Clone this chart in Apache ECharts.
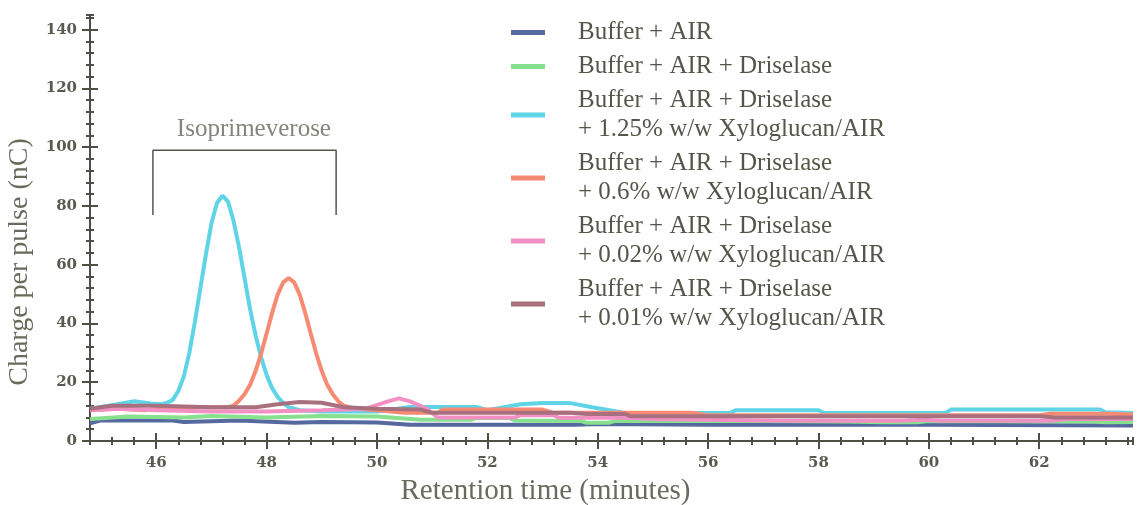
<!DOCTYPE html>
<html>
<head>
<meta charset="utf-8">
<script src="https://cdn.jsdelivr.net/npm/echarts@6/dist/echarts.min.js"></script>
<style>
  html, body { margin: 0; padding: 0; background: #fff; }
  #chart { width: 1139px; height: 505px; }
</style>
</head>
<body>
<div id="chart"></div>
<script>
// Retention time (min) / charge per pulse (nC) pairs
const bufferAir = [
  [44.8, 6.0], [45.0, 7.0], [46.3, 7.0], [46.5, 6.5], [47.5, 7.0], [48.5, 6.2],
  [49.0, 6.5], [50.0, 6.3], [50.6, 5.5], [53.6, 5.5], [54.0, 5.8], [56.0, 5.5],
  [60.0, 5.5], [63.7, 5.3]
];
const bufferAirDris = [
  [44.8, 7.5], [45.5, 8.3], [46.5, 8.0], [47.0, 8.5], [48.0, 8.0], [49.0, 8.5],
  [50.0, 8.3], [50.8, 7.2], [51.7, 7.2], [51.8, 7.8], [52.4, 7.8], [52.5, 7.0],
  [53.7, 6.8], [53.8, 6.2], [54.2, 6.2], [54.3, 6.8], [57.0, 6.8], [58.5, 6.6],
  [59.2, 6.4], [59.8, 6.4], [60.0, 6.8], [63.0, 6.6], [63.2, 6.4], [63.7, 6.5]
];
const xg125 = [
  [44.8, 11.0], [45.3, 12.5], [45.6, 13.5], [45.9, 12.8], [46.1, 12.5], [46.2, 13.0],
  [46.3, 14.0], [46.4, 17.0], [46.5, 22.0], [46.6, 30.0], [46.7, 40.5], [46.8, 52.0],
  [46.9, 63.5], [47.0, 74.0], [47.1, 81.0], [47.2, 83.5], [47.3, 81.5], [47.4, 75.0],
  [47.5, 66.0], [47.6, 55.5], [47.7, 45.0], [47.8, 36.0], [47.9, 28.5], [48.0, 22.5],
  [48.1, 18.0], [48.2, 15.0], [48.3, 13.0], [48.4, 11.5], [48.6, 10.5], [49.0, 10.0],
  [50.0, 10.0], [50.6, 11.6], [51.8, 11.6], [52.0, 10.5], [52.6, 12.5], [53.0, 12.9],
  [53.5, 12.9], [53.9, 11.5], [54.5, 9.5], [56.4, 9.5], [56.5, 10.5], [58.0, 10.5],
  [58.1, 9.5], [60.3, 9.5], [60.4, 10.7], [63.1, 10.7], [63.2, 9.8], [63.7, 9.5]
];
const xg06 = [
  [44.8, 10.5], [45.3, 11.0], [45.8, 10.5], [46.3, 11.5], [47.3, 11.5], [47.4, 12.0],
  [47.5, 13.7], [47.6, 15.9], [47.7, 19.1], [47.8, 23.8], [47.9, 29.7], [48.0, 36.6],
  [48.1, 43.6], [48.2, 49.8], [48.3, 54.0], [48.4, 55.5], [48.5, 54.0], [48.6, 49.8],
  [48.7, 43.6], [48.8, 36.6], [48.9, 29.7], [49.0, 23.8], [49.1, 19.1], [49.2, 15.9],
  [49.3, 13.5], [49.4, 12.0], [49.6, 11.0], [50.0, 10.5], [50.5, 9.6], [51.1, 9.6],
  [51.2, 10.7], [53.0, 10.7], [53.2, 9.6], [55.7, 9.6], [56.0, 8.8], [62.0, 8.8],
  [62.2, 9.3], [63.3, 9.3], [63.7, 9.0]
];
const xg002 = [
  [44.8, 10.5], [45.3, 11.0], [46.0, 10.5], [47.0, 10.0], [48.0, 10.0], [49.0, 10.5],
  [49.8, 11.0], [50.2, 13.5], [50.4, 14.5], [50.6, 13.5], [50.9, 11.0], [51.1, 8.0],
  [52.5, 8.0], [52.6, 8.8], [53.2, 8.8], [53.3, 7.9], [54.5, 7.9], [55.0, 7.5],
  [57.3, 6.9], [59.5, 6.9], [59.9, 7.2], [60.2, 6.9], [62.2, 6.9], [62.5, 7.5], [63.7, 7.5]
];
const xg001 = [
  [44.8, 11.0], [45.2, 12.0], [46.0, 12.0], [47.0, 11.5], [47.8, 11.5], [48.2, 12.5],
  [48.6, 13.3], [49.0, 13.0], [49.4, 11.5], [50.0, 11.0], [50.8, 10.7], [51.0, 9.6],
  [53.5, 9.6], [53.8, 9.2], [54.5, 9.2], [54.6, 8.4], [62.0, 8.4], [62.3, 8.0], [63.7, 8.0]
];

const seriesNames = [
  'Buffer + AIR',
  'Buffer + AIR + Driselase',
  'Buffer + AIR + Driselase\n+ 1.25% w/w Xyloglucan/AIR',
  'Buffer + AIR + Driselase\n+ 0.6% w/w Xyloglucan/AIR',
  'Buffer + AIR + Driselase\n+ 0.02% w/w Xyloglucan/AIR',
  'Buffer + AIR + Driselase\n+ 0.01% w/w Xyloglucan/AIR'
];
const seriesData = [bufferAir, bufferAirDris, xg125, xg06, xg002, xg001];
const colors = ['#56699f', '#86e08e', '#5fd4e6', '#f68a72', '#f290c4', '#a8707f'];

const xTicks = [46, 48, 50, 52, 54, 56, 58, 60, 62];
const yTicks = [0, 20, 40, 60, 80, 100, 120, 140];

// bracket over the isoprimeverose region, in data units
const bracket = [[45.94, 76.9], [45.94, 99.0], [49.26, 99.0], [49.26, 76.9]];
const bracketLabel = [[47.77, 105.9]];

const axisColor = '#4f4f45';
const X_MIN = 44.8, X_MAX = 63.7, Y_MIN = 0, Y_MAX = 145;

const chart = echarts.init(document.getElementById('chart'));

function xAxisBase(extra) {
  return Object.assign({
    type: 'value', min: X_MIN, max: X_MAX, position: 'bottom', offset: 0,
    axisLine: { show: false }, axisLabel: { show: false }, splitLine: { show: false }
  }, extra);
}
function yAxisBase(extra) {
  return Object.assign({
    type: 'value', min: Y_MIN, max: Y_MAX, position: 'left', offset: 0,
    axisLine: { show: false }, axisLabel: { show: false }, splitLine: { show: false }
  }, extra);
}

const series = seriesNames.map((name, i) => ({
  name: name,
  type: 'line',
  data: seriesData[i],
  symbol: 'none',
  color: colors[i],
  lineStyle: { width: 4, color: colors[i] },
  z: 2 + i
}));

series.push({
  name: 'bracket',
  type: 'line',
  data: bracket,
  symbol: 'none',
  silent: true,
  lineStyle: { width: 1.5, color: '#55564a' },
  z: 10
});
series.push({
  name: 'bracketLabel',
  type: 'scatter',
  data: bracketLabel,
  symbolSize: 0,
  silent: true,
  label: {
    show: true,
    position: 'inside',
    formatter: 'Isoprimeverose',
    fontFamily: 'Liberation Serif',
    fontSize: 25,
    color: '#66675a'
  }
});

const tickLabelStyle = {
  fontFamily: 'DejaVu Serif', fontWeight: 'bold', fontSize: 15, color: '#5a5a50'
};

const option = {
  animation: false,
  backgroundColor: '#ffffff',
  grid: { left: 90, right: 6, top: 15, bottom: 64, containLabel: false, outerBoundsMode: 'none' },
  legend: {
    data: seriesNames,
    orient: 'vertical',
    left: 511,
    top: 18,
    padding: 0,
    itemGap: 5,
    itemWidth: 34,
    itemHeight: 5,
    icon: 'rect',
    textStyle: {
      fontFamily: 'Liberation Serif',
      fontSize: 25,
      lineHeight: 29,
      color: '#55564a',
      padding: [0, 0, 0, 28]
    }
  },
  xAxis: [
    xAxisBase({
      name: 'Retention time (minutes)',
      nameLocation: 'middle',
      nameGap: 36,
      nameTextStyle: {
        fontFamily: 'Liberation Serif', fontSize: 29, color: '#6a6b5c',
        padding: [0, 132, 0, 0]
      },
      axisLine: { show: true, lineStyle: { color: axisColor, width: 2 } },
      axisTick: { show: true, customValues: xTicks, length: 8, lineStyle: { color: axisColor, width: 2 } },
      axisLabel: Object.assign({ show: true, customValues: xTicks, margin: 15 }, tickLabelStyle)
    }),
    xAxisBase({
      axisTick: { show: true, inside: true, customValues: xTicks, length: 8, lineStyle: { color: axisColor, width: 2 } }
    }),
    xAxisBase({
      interval: 0.4,
      axisTick: { show: true, length: 4, lineStyle: { color: axisColor, width: 2 } }
    }),
    xAxisBase({
      interval: 0.4,
      axisTick: { show: true, inside: true, length: 4, lineStyle: { color: axisColor, width: 2 } }
    })
  ],
  yAxis: [
    yAxisBase({
      name: 'Charge per pulse (nC)',
      nameLocation: 'middle',
      nameGap: 56,
      nameTextStyle: {
        fontFamily: 'Liberation Serif', fontSize: 28, color: '#6a6b5c',
        padding: [0, 68, 0, 0]
      },
      axisLine: { show: true, lineStyle: { color: axisColor, width: 2 } },
      axisTick: { show: true, customValues: yTicks, length: 8, lineStyle: { color: axisColor, width: 2 } },
      axisLabel: Object.assign({ show: true, customValues: yTicks, margin: 13 }, tickLabelStyle)
    }),
    yAxisBase({
      axisTick: { show: true, inside: true, customValues: yTicks, length: 8, lineStyle: { color: axisColor, width: 2 } }
    }),
    yAxisBase({
      interval: 4,
      axisTick: { show: true, length: 4, lineStyle: { color: axisColor, width: 2 } }
    }),
    yAxisBase({
      interval: 4,
      axisTick: { show: true, inside: true, length: 4, lineStyle: { color: axisColor, width: 2 } }
    })
  ],
  series: series
};

chart.setOption(option);
</script>
</body>
</html>
